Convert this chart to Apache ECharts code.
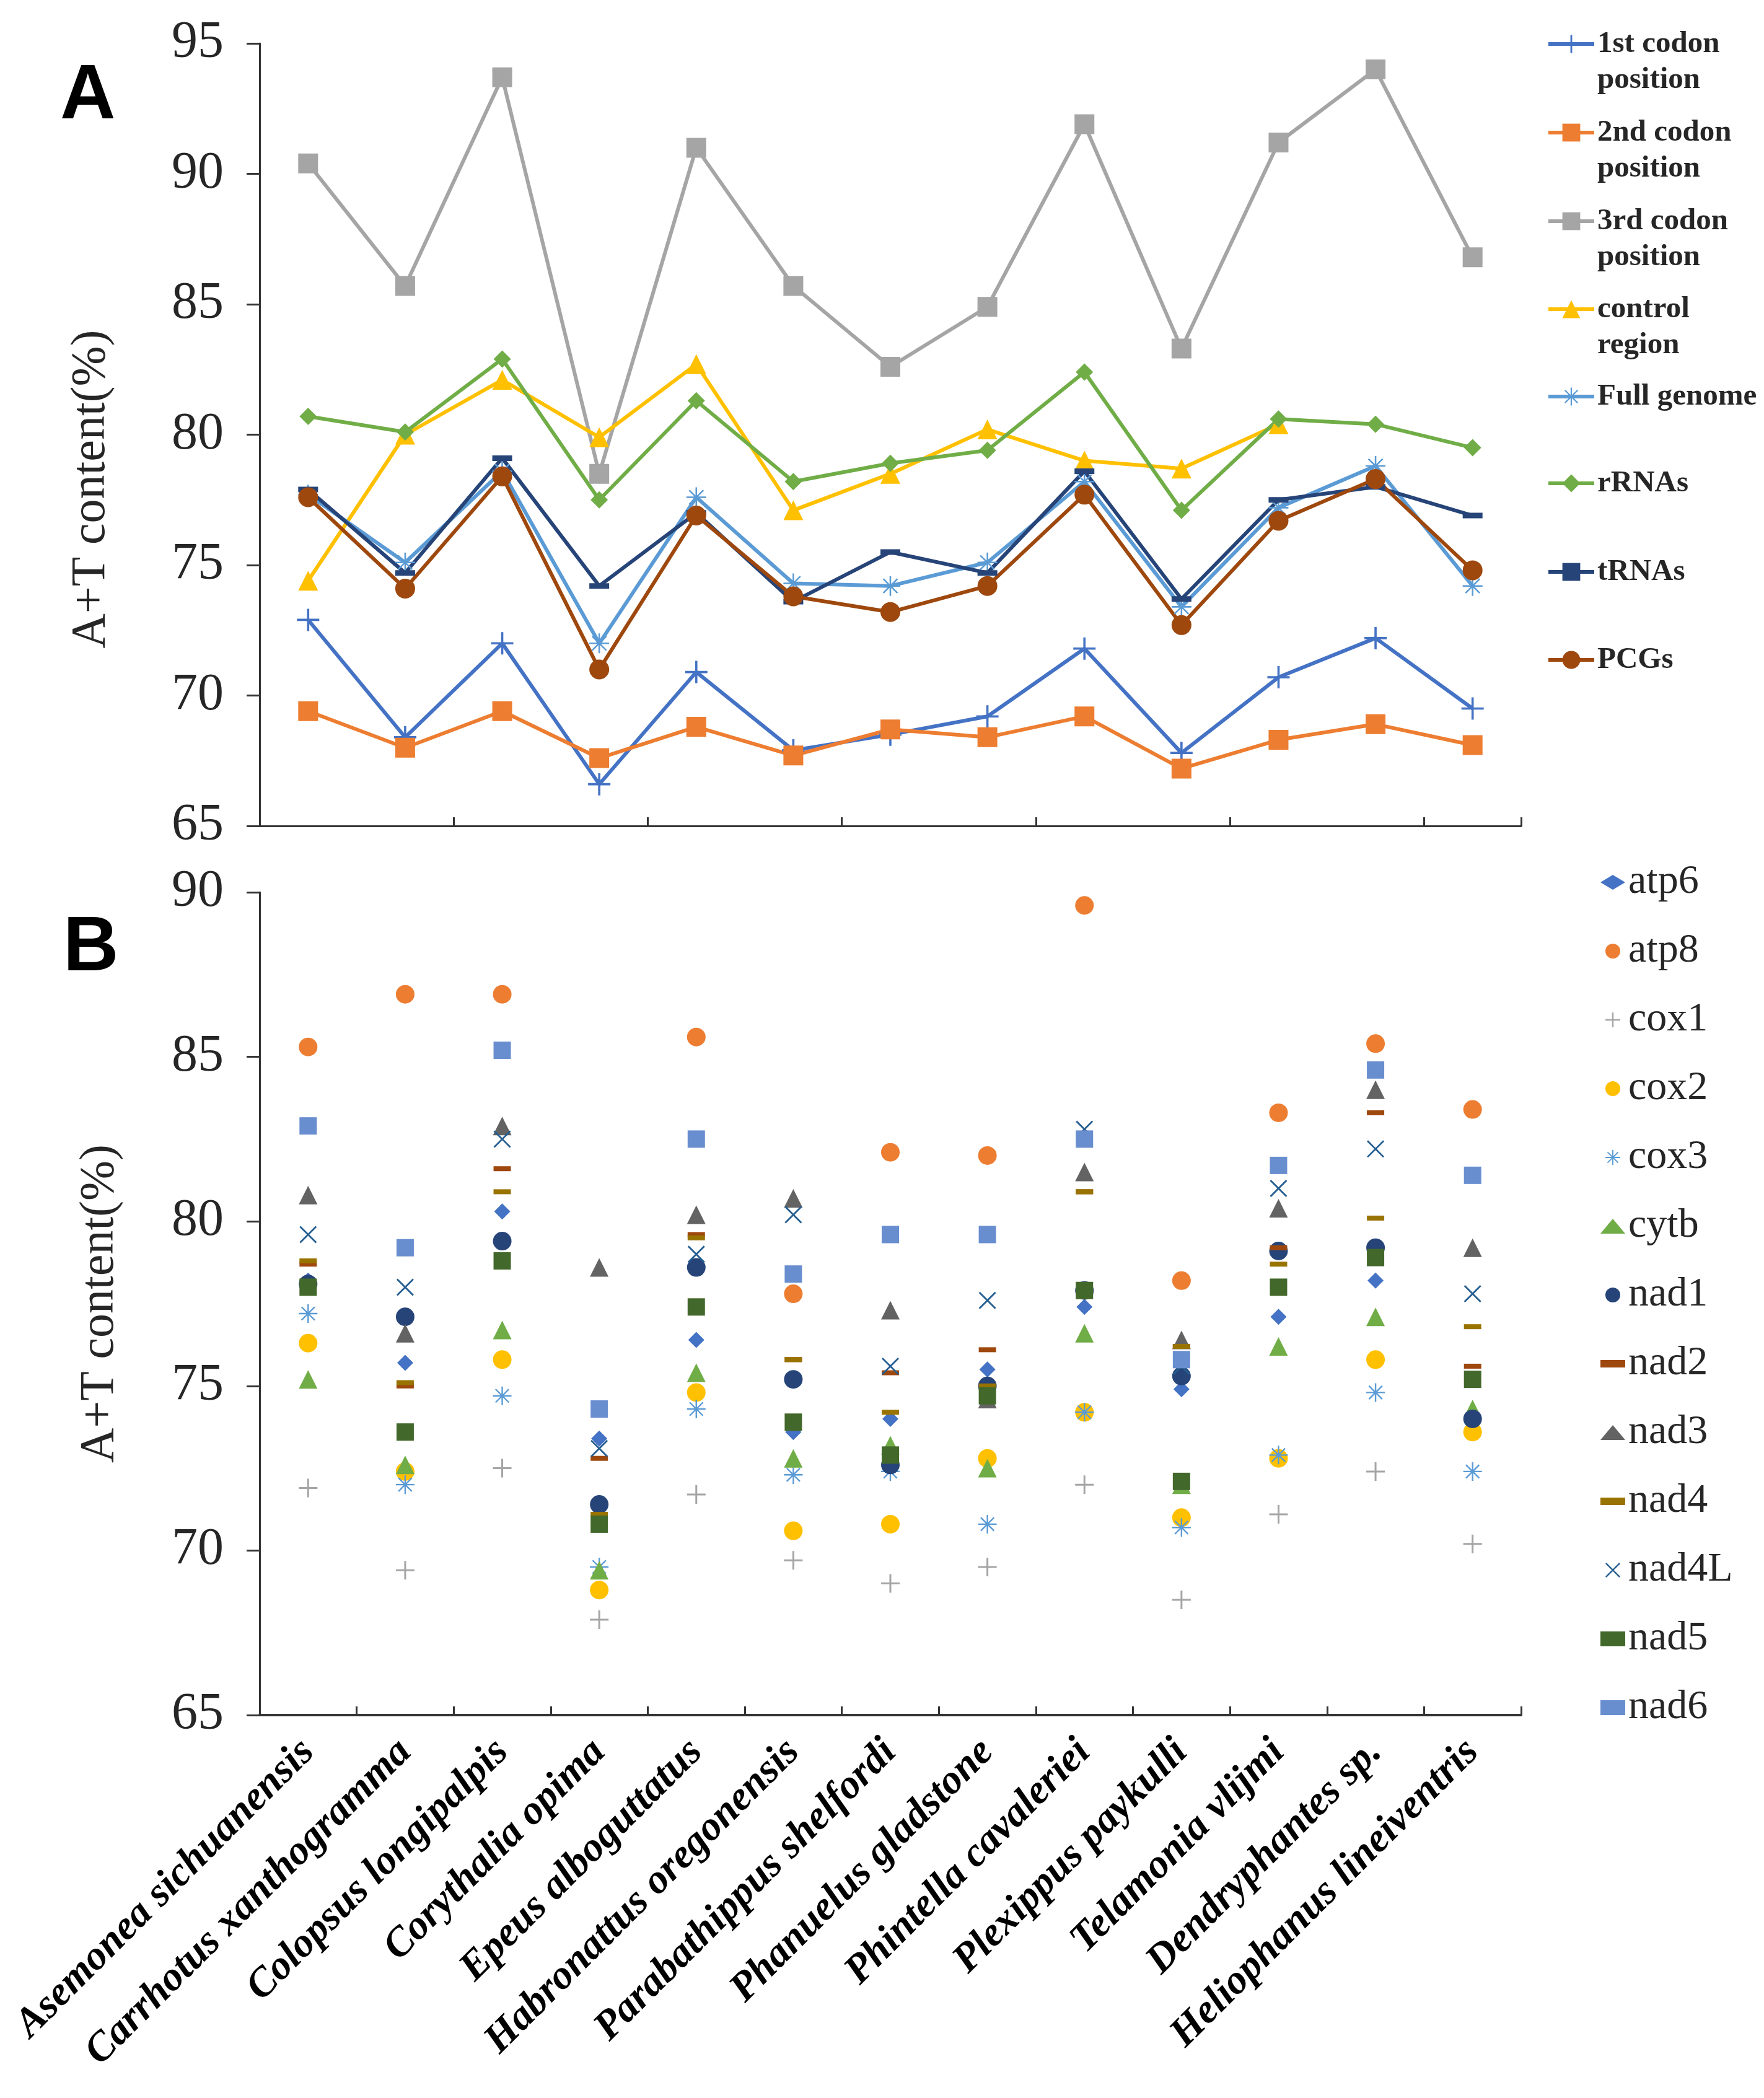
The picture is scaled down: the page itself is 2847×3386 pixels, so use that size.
<!DOCTYPE html>
<html>
<head>
<meta charset="utf-8">
<script src="https://cdn.jsdelivr.net/npm/echarts@6/dist/echarts.min.js"></script>
<style>
html,body{margin:0;padding:0;background:#fff;}
#chart{width:2847px;height:3386px;}
</style>
</head>
<body>
<div id="chart"></div>
<script>
// ---------- data ----------
const species = ['Asemonea sichuanensis','Carrhotus xanthogramma','Colopsus longipalpis','Corythalia opima','Epeus alboguttatus','Habronattus oregonensis','Parabathippus shelfordi','Phanuelus gladstone','Phintella cavaleriei','Plexippus paykulli','Telamonia vlijmi','Dendryphantes sp.','Heliophanus lineiventris'];

const yTicksA = [65, 70, 75, 80, 85, 90, 95];
const yTicksB = [65, 70, 75, 80, 85, 90];

// Panel A
const codon1st   = [72.9, 68.4, 72.0, 66.6, 70.9, 67.9, 68.5, 69.2, 71.8, 67.8, 70.7, 72.2, 69.5];
const codon2nd   = [69.4, 68.0, 69.4, 67.6, 68.8, 67.7, 68.7, 68.4, 69.2, 67.2, 68.3, 68.9, 68.1];
const codon3rd   = [90.4, 85.7, 93.7, 78.5, 91.0, 85.7, 82.6, 84.9, 91.9, 83.3, 91.2, 94.0, 86.8];
const controlReg = [74.4, 80.0, 82.1, 79.9, 82.7, 77.1, 78.5, 80.2, 79.0, 78.7, 80.4, null, null];
const fullGenome = [77.7, 75.1, 78.6, 72.0, 77.6, 74.3, 74.2, 75.1, 78.2, 73.4, 77.2, 78.8, 74.2];
const rRNAs      = [80.7, 80.1, 82.9, 77.5, 81.3, 78.2, 78.9, 79.4, 82.4, 77.1, 80.6, 80.4, 79.5];
const tRNAs      = [77.9, 74.7, 79.1, 74.2, 77.0, 73.6, 75.5, 74.7, 78.6, 73.7, 77.5, 78.0, 76.9];
const PCGs       = [77.6, 74.1, 78.4, 71.0, 76.9, 73.8, 73.2, 74.2, 77.7, 72.7, 76.7, 78.3, 74.8];

// Panel B
const atp6  = [78.2, 75.7, 80.3, 73.4, 76.4, 73.6, 74.0, 75.5, 77.4, 74.9, 77.1, 78.2, 74.1];
const atp8  = [85.3, 86.9, 86.9, null, 85.6, 77.8, 82.1, 82.0, 89.6, 78.2, 83.3, 85.4, 83.4];
const cox1  = [71.9, 69.4, 72.5, 67.9, 71.7, 69.7, 69.0, 69.5, 72.0, 68.5, 71.1, 72.4, 70.2];
const cox2  = [76.3, 72.4, 75.8, 68.8, 74.8, 70.6, 70.8, 72.8, 74.2, 71.0, 72.8, 75.8, 73.6];
const cox3  = [77.2, 72.0, 74.7, 69.5, 74.3, 72.3, 72.4, 70.8, 74.2, 70.7, 72.9, 74.8, 72.4];
const cytb  = [75.2, 72.6, 76.7, 69.4, 75.4, 72.8, 73.2, 72.5, 76.6, 72.0, 76.2, 77.1, 74.3];
const nad1  = [78.1, 77.1, 79.4, 71.4, 78.6, 75.2, 72.6, 75.0, 77.9, 75.3, 79.1, 79.2, 74.0];
const nad2  = [78.7, 75.0, 81.6, 72.8, 79.6, 75.8, 75.4, 76.1, 80.9, 76.2, 79.2, 83.3, 75.6];
const nad3  = [80.8, 76.6, 82.9, 78.6, 80.2, 80.7, 77.3, 74.6, 81.5, 76.4, 80.4, 84.0, 79.2];
const nad4  = [78.8, 75.1, 80.9, 71.1, 79.5, 75.8, 74.2, 75.0, 80.9, 76.2, 78.7, 80.1, 76.8];
const nad4L = [79.6, 78.0, 82.5, 73.1, 79.0, 80.2, 75.6, 77.6, 82.8, 75.6, 81.0, 82.2, 77.8];
const nad5  = [78.0, 73.6, 78.8, 70.8, 77.4, 73.9, 72.9, 74.7, 77.9, 72.1, 78.0, 78.9, 75.2];
const nad6  = [82.9, 79.2, 85.2, 74.3, 82.5, 78.4, 79.6, 79.6, 82.5, 75.8, 81.7, 84.6, 81.4];

// ---------- symbols ----------
const PLUS = 'path://M9,0h2v9h9v2h-9v9h-2v-9h-9v-2h9z';
const XMARK = 'path://M0,1.4L1.4,0L10,8.6L18.6,0L20,1.4L11.4,10L20,18.6L18.6,20L10,11.4L1.4,20L0,18.6L8.6,10Z';
const ASTER = 'path://M9.2,0h1.6v8.1L16.6,2.3L17.7,3.4L11.9,9.2H20v1.6H11.9L17.7,16.6L16.6,17.7L10.8,11.9V20H9.2V11.9L3.4,17.7L2.3,16.6L8.1,10.8H0V9.2H8.1L2.3,3.4L3.4,2.3L9.2,8.1Z';
const DASH = 'path://M0,0h20v6h-20z';

const SERIF = '"Liberation Serif", "Times New Roman", serif';

// ---------- panel A series ----------
const lineDefs = [
  {name: '1st codon\nposition', data: codon1st, color: '#4472C4', symbol: PLUS, size: 36},
  {name: '2nd codon\nposition', data: codon2nd, color: '#ED7D31', symbol: 'rect', size: 32},
  {name: '3rd codon\nposition', data: codon3rd, color: '#A5A5A5', symbol: 'rect', size: 32},
  {name: 'control\nregion', data: controlReg, color: '#FFC000', symbol: 'triangle', size: 32},
  {name: 'Full genome', data: fullGenome, color: '#5B9BD5', symbol: ASTER, size: 32},
  {name: 'rRNAs', data: rRNAs, color: '#70AD47', symbol: 'diamond', size: 28},
  {name: 'tRNAs', data: tRNAs, color: '#264478', symbol: DASH, size: [32, 9]},
  {name: 'PCGs', data: PCGs, color: '#9E480E', symbol: 'circle', size: 32}
];
const legendCentersA = [71, 214, 357, 499, 640, 780, 923, 1065];
const LH_A = 58;

// ---------- panel B series ----------
const scatterDefs = [
  {name: 'atp6', data: atp6, color: '#4472C4', symbol: 'diamond', size: 26},
  {name: 'atp8', data: atp8, color: '#ED7D31', symbol: 'circle', size: 30},
  {name: 'cox1', data: cox1, color: '#A5A5A5', symbol: PLUS, size: 30},
  {name: 'cox2', data: cox2, color: '#FFC000', symbol: 'circle', size: 30},
  {name: 'cox3', data: cox3, color: '#5B9BD5', symbol: ASTER, size: 30},
  {name: 'cytb', data: cytb, color: '#70AD47', symbol: 'triangle', size: 30},
  {name: 'nad1', data: nad1, color: '#264478', symbol: 'circle', size: 30},
  {name: 'nad2', data: nad2, color: '#9E480E', symbol: DASH, size: [28, 8]},
  {name: 'nad3', data: nad3, color: '#636363', symbol: 'triangle', size: 30},
  {name: 'nad4', data: nad4, color: '#997300', symbol: DASH, size: [28, 8]},
  {name: 'nad4L', data: nad4L, color: '#255E91', symbol: XMARK, size: 28},
  {name: 'nad5', data: nad5, color: '#43682B', symbol: 'rect', size: 28},
  {name: 'nad6', data: nad6, color: '#698ED0', symbol: 'rect', size: 28}
];

const series = [];
lineDefs.forEach(d => {
  series.push({
    type: 'line', name: d.name, xAxisIndex: 0, yAxisIndex: 0,
    data: d.data, symbol: d.symbol, symbolSize: d.size, showAllSymbol: true,
    color: d.color,
    lineStyle: {color: d.color, width: 6},
    itemStyle: {color: d.color},
    connectNulls: false, animation: false
  });
});
scatterDefs.forEach(d => {
  series.push({
    type: 'scatter', name: d.name, xAxisIndex: 1, yAxisIndex: 1,
    data: d.data, symbol: d.symbol, symbolSize: d.size,
    color: d.color,
    itemStyle: {color: d.color, opacity: 1},
    animation: false
  });
});

// legends for panel A (one per item so the icon sits on the first text line)
const legends = lineDefs.map((d, i) => {
  const twoLine = d.name.indexOf('\n') >= 0;
  const blockHalf = twoLine ? (LH_A * 3) / 2 : LH_A / 2;
  return {
    orient: 'vertical',
    left: 2496,
    top: legendCentersA[i] - blockHalf,
    padding: 0,
    itemWidth: 74,
    itemHeight: 36,
    data: [d.name],
    selectedMode: false,
    formatter: twoLine ? (n => '\n' + n) : (n => n),
    lineStyle: {width: 6},
    textStyle: {
      fontFamily: SERIF, fontWeight: 'bold', fontSize: 49, color: '#262626',
      lineHeight: LH_A
    }
  };
});
// legend for panel B
legends.push({
  orient: 'vertical',
  left: 2583,
  top: 1389,
  padding: 0,
  itemWidth: 40,
  itemHeight: 24,
  itemGap: 41,
  selectedMode: false,
  data: scatterDefs.map(d => d.name),
  textStyle: {fontFamily: SERIF, fontSize: 66, color: '#262626', lineHeight: 70}
});

const axisLineStyle = {color: '#333', width: 3};
const yLabelStyle = {fontFamily: SERIF, fontSize: 84, color: '#262626', margin: 58};

const option = {
  backgroundColor: '#ffffff',
  animation: false,
  legend: legends,
  grid: [
    {left: 419, right: 392, top: 70, bottom: 2053},
    {left: 419, right: 392, top: 1440, bottom: 618}
  ],
  xAxis: [
    {
      type: 'category', gridIndex: 0, data: species, boundaryGap: true,
      axisLine: {lineStyle: axisLineStyle},
      axisTick: {show: true, inside: true, length: 14, lineStyle: {color: '#333', width: 3}},
      axisLabel: {show: false},
      splitLine: {show: false}
    },
    {
      type: 'category', gridIndex: 1, data: species, boundaryGap: true,
      axisLine: {lineStyle: {color: '#333', width: 4}},
      axisTick: {show: true, inside: true, length: 14, lineStyle: {color: '#333', width: 3}},
      axisLabel: {
        show: true, interval: 0, rotate: 45, margin: 50,
        fontFamily: SERIF, fontStyle: 'italic', fontWeight: 'bold', fontSize: 66, color: '#000'
      },
      splitLine: {show: false}
    }
  ],
  yAxis: [
    {
      type: 'value', gridIndex: 0, min: yTicksA[0], max: yTicksA[yTicksA.length - 1], interval: 5,
      axisLine: {show: true, lineStyle: axisLineStyle},
      axisTick: {show: true, inside: false, length: 21, lineStyle: {color: '#333', width: 3}},
      axisLabel: yLabelStyle,
      splitLine: {show: false},
      name: 'A+T content(%)', nameLocation: 'middle', nameGap: 232,
      nameTextStyle: {fontFamily: SERIF, fontSize: 78, color: '#262626', padding: [0, 176, 0, 0]}
    },
    {
      type: 'value', gridIndex: 1, min: yTicksB[0], max: yTicksB[yTicksB.length - 1], interval: 5,
      axisLine: {show: true, lineStyle: axisLineStyle},
      axisTick: {show: true, inside: false, length: 21, lineStyle: {color: '#333', width: 3}},
      axisLabel: yLabelStyle,
      splitLine: {show: false},
      name: 'A+T content(%)', nameLocation: 'middle', nameGap: 218,
      nameTextStyle: {fontFamily: SERIF, fontSize: 78, color: '#262626'}
    }
  ],
  graphic: [
    {type: 'text', left: 97, top: 95, style: {text: 'A', font: 'bold 124px "Liberation Sans", Arial, sans-serif', fill: '#000'}},
    {type: 'text', left: 102, top: 1470, style: {text: 'B', font: 'bold 124px "Liberation Sans", Arial, sans-serif', fill: '#000'}}
  ],
  series: series
};

const chart = echarts.init(document.getElementById('chart'), null, {renderer: 'canvas'});
chart.setOption(option);
</script>
</body>
</html>
